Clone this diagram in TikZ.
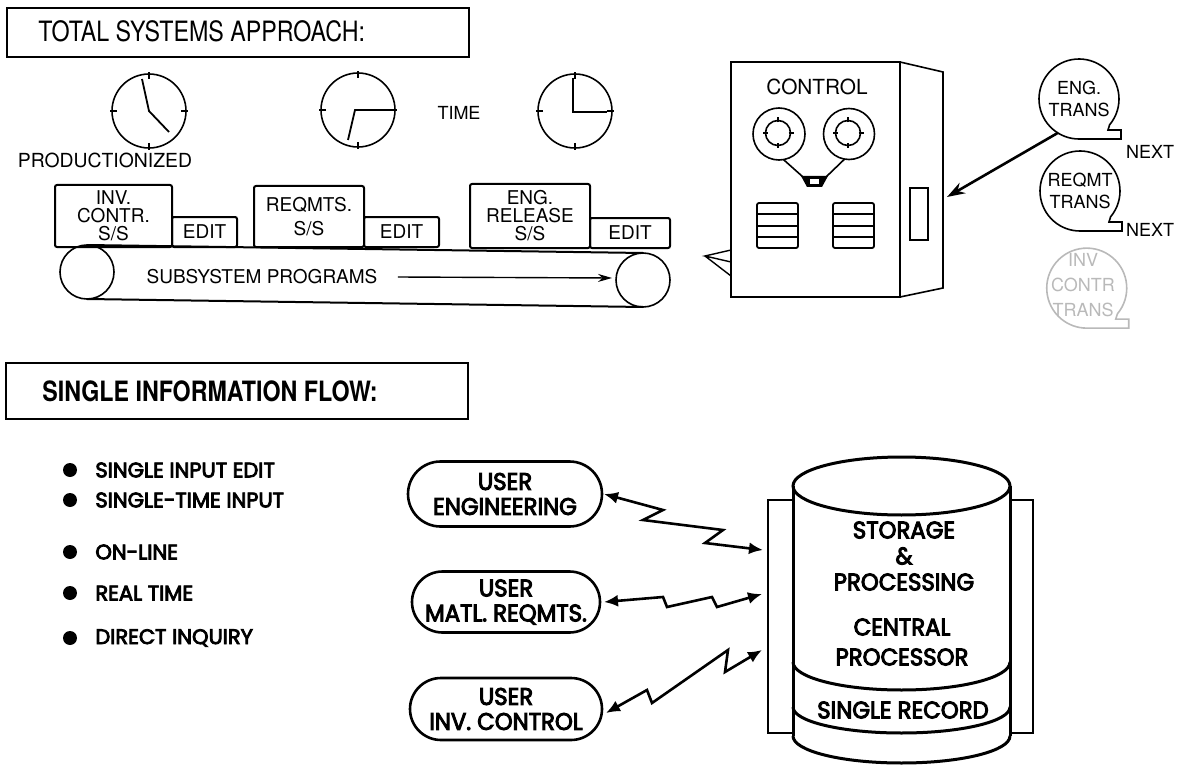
\documentclass[tikz,border=0pt]{standalone}
\usepackage{fontspec}
\newfontfamily\narrowsans{TeX Gyre Heros}[FakeStretch=0.83]
\newfontfamily\labelsans{TeX Gyre Heros}
\newfontfamily\roundsans{Poppins}[FakeStretch=0.95,FakeBold=4]
\newfontfamily\itemsans{Poppins}[FakeBold=4]
\usetikzlibrary{shapes.misc,arrows.meta}

\tikzset{
  frame/.style={draw,line width=1pt},
  clock/.style={circle,draw,line width=0.8pt,minimum size=37pt,inner sep=0pt,outer sep=0pt},
  lbl/.style={inner sep=0pt,align=center,font=\labelsans\fontsize{9.5}{9}\selectfont},
  ssbox/.style={draw,line width=1pt,rounded corners=1pt,inner sep=0pt,outer sep=0pt,align=center,
    font=\labelsans\fontsize{9.5}{9}\selectfont},
  roller/.style={circle,draw,line width=0.8pt,minimum size=27pt,inner sep=0pt,outer sep=0pt},
  reel/.style={circle,draw,line width=0.8pt,inner sep=0pt,outer sep=0pt},
  bubble/.style={circle,minimum size=40pt,inner sep=0pt,outer sep=0pt,align=center,
    font=\labelsans\fontsize{9}{11}\selectfont},
  user/.style={rounded rectangle,draw,line width=1.3pt,inner sep=0pt,outer sep=0pt,align=center,
    font=\roundsans\fontsize{12}{12.5}\selectfont},
  item/.style={inner sep=0pt,anchor=west,font=\itemsans\fontsize{10.5}{12}\selectfont},
  core/.style={inner sep=0pt,align=center,font=\roundsans\fontsize{12}{13}\selectfont},
  link/.style={line width=1.3pt,line join=miter,>={Latex[length=7pt,width=6pt]},<->},
}

\begin{document}
\begin{tikzpicture}[x=0.5pt,y=-0.5pt]
\useasboundingbox (0,0) rectangle (1184,765);

% ---- total systems approach ----
\draw[frame] (7,8) rectangle (469,57);
\node[anchor=west,inner sep=0pt,font=\narrowsans\fontsize{14}{14}\selectfont] (title) at (38,31) {TOTAL SYSTEMS APPROACH:};

% clocks
\node[clock] (clk1) at (149,111) {};
\node[clock] (clk2) at (358,110) {};
\node[clock] (clk3) at (575,111) {};
\foreach \n in {clk1,clk2,clk3}
  \foreach \a in {0,90,180,270}
    \draw[line width=0.8pt] ([shift={(\a+180:2.5pt)}]\n.\a) -- ([shift={(\a:1pt)}]\n.\a);
\draw[line width=0.9pt] (142,79) -- (clk1.center) -- (169,132);
\draw[line width=0.9pt] (390,110) -- (355,110) -- (348,140);
\draw[line width=0.9pt] (573,78) -- (573,112) -- (607,112);
\node[lbl,font=\labelsans\fontsize{9}{9}\selectfont] (time) at (459,113) {TIME};
\node[lbl,font=\labelsans\fontsize{9.7}{9}\selectfont] (prod) at (105,160) {PRODUCTIONIZED};

% subsystem programs and edits
\node[ssbox,minimum width=58.5pt,minimum height=31pt] (inv) at (113.5,216) {INV.\\CONTR.\\S/S};
\node[ssbox,anchor=south west,minimum width=32.5pt,minimum height=15pt] (invedit) at (inv.south east) {EDIT};
\node[ssbox,minimum width=55pt,minimum height=30.5pt] (req) at (309,216.5) {REQMTS.\\[3pt]S/S};
\node[ssbox,anchor=south west,minimum width=37.5pt,minimum height=15pt] (reqedit) at (req.south east) {EDIT};
\node[ssbox,minimum width=60pt,minimum height=32pt] (eng) at (530,216) {ENG.\\RELEASE\\S/S};
\node[ssbox,anchor=south west,minimum width=40pt,minimum height=15pt] (engedit) at (eng.south east) {EDIT};

% belt
\node[roller] (rollL) at (87,272) {};
\node[roller] (rollR) at (643,280) {};
\draw[line width=1pt] (rollL.north) -- (rollR.north) (rollL.south) -- (rollR.south);
\node[lbl] (prog) at (262,277) {SUBSYSTEM PROGRAMS};
\coordinate (beltend) at (612,278);
\draw[line width=0.7pt,-{Stealth[length=7pt,width=4pt]}] ([xshift=10pt]prog.east) -- (beltend);

% control unit
\node[draw,line width=1pt,minimum width=84.5pt,minimum height=117.5pt,inner sep=0pt,outer sep=0pt] (cab) at (815.5,179.5) {};
\draw[line width=0.8pt] (cab.north east) -- (943,72) -- (943,288) -- (cab.south east);
\node[draw,line width=0.6pt,minimum width=9pt,minimum height=26pt,inner sep=0pt] (slot) at (919,214) {};
\node[lbl,font=\labelsans\fontsize{10.4}{10}\selectfont] (ctrl) at (817,87) {CONTROL};
\node[reel,minimum size=26pt] (reelL) at (779,134) {};
\node[reel,minimum size=25.5pt] (reelR) at (849,134) {};
\node[reel,minimum size=12.5pt] (hubL) at (778,133) {};
\node[reel,minimum size=12.5pt] (hubR) at (848,133) {};
\foreach \n in {hubL,hubR}
  \foreach \a in {0,90,180,270}
    \draw[line width=0.8pt] ([shift={(\a+180:1pt)}]\n.\a) -- ([shift={(\a:1.5pt)}]\n.\a);
\draw[line width=0.8pt] (reelL.-80) -- (803,177) (reelR.-100) -- (826,177);
\fill (801,176) -- (828,176) -- (822,187) -- (807,187) -- cycle;
\fill[white] (810,179) rectangle (819,184);
\foreach \x in {757,833} {
  \draw[line width=0.9pt,rounded corners=1pt] (\x,203) rectangle ++(41,45);
  \foreach \y in {214,226,237}
    \draw[line width=0.9pt] (\x,\y) -- ++(41,0);
}
\draw[line width=0.7pt] (731,250) -- (705,256) -- (731,262) (705,256) -- (731,276);

% transactions
\node[bubble] (engt) at (1079,99) {ENG.\\TRANS};
\node[bubble] (reqt) at (1080,191) {REQMT\\TRANS};
\node[bubble,text=gray!55,font=\labelsans\fontsize{9}{12.5}\selectfont] (invt) at (1083,285) {INV\\CONTR\\TRANS};
\foreach \b/\c in {engt/black,reqt/black,invt/gray!55}
  \draw[\c,line width=0.8pt] (\b.-40) arc[start angle=-40,end angle=270,radius=20pt]
    -- ++(21pt,0pt) -- ++(0pt,4.5pt) -- ++(-6.5pt,0pt) -- cycle;
\node[lbl,font=\labelsans\fontsize{9}{9}\selectfont] (next1) at (1150,152) {NEXT};
\node[lbl,font=\labelsans\fontsize{9}{9}\selectfont] (next2) at (1150,230) {NEXT};
\coordinate (tip) at (947,197);
\draw[line width=1.3pt,-{Stealth[length=9pt,width=6pt]}] (engt.-122) -- (tip);

% ---- single information flow ----
\draw[line width=1.4pt] (6,363) rectangle (468,419);
\node[anchor=west,inner sep=0pt,font=\narrowsans\bfseries\fontsize{14}{14}\selectfont] (title2) at (42,391) {SINGLE INFORMATION FLOW:};
\foreach \y/\t [count=\i] in {470/SINGLE INPUT EDIT,500/SINGLE-TIME INPUT,552/ON-LINE,593/REAL TIME,638/DIRECT INQUIRY} {
  \node[circle,fill,inner sep=0pt,minimum size=7pt] (dot\i) at (70,\y) {};
  \node[item] (pt\i) at (95,\y) {\t};
}

% users
\node[user,minimum width=97pt,minimum height=32.5pt] (user1) at (505,494) {USER\\ENGINEERING};
\node[user,minimum width=94pt,minimum height=30.5pt] (user2) at (506,602) {USER\\MATL. REQMTS.};
\node[user,minimum width=96pt,minimum height=31pt] (user3) at (506,709) {USER\\INV. CONTROL};

% central store
\draw[line width=1.4pt] (768,500) rectangle (793,733);
\draw[line width=1.4pt] (1010,500) rectangle (1033,733);
\fill[white] (793,486) rectangle (1010,736);
\draw[line width=1.5pt] (901.5,486) ellipse[x radius=54.25pt,y radius=14.5pt];
\draw[line width=1.5pt] (793,486) -- (793,736) (1010,486) -- (1010,736);
\draw[line width=1.5pt] (793,662) arc[start angle=180,end angle=360,x radius=54.25pt,y radius=14pt];
\draw[line width=1.5pt] (793,707) arc[start angle=180,end angle=360,x radius=54.25pt,y radius=13pt];
\draw[line width=1.5pt] (793,736) arc[start angle=180,end angle=360,x radius=54.25pt,y radius=13.5pt];
\node[core] (store) at (904,556) {STORAGE\\\&\\PROCESSING};
\node[core,font=\roundsans\fontsize{12}{15}\selectfont] (cpu) at (902,642) {CENTRAL\\PROCESSOR};
\node[core] (rec) at (903,710) {SINGLE RECORD};

% links
\coordinate (in1) at (763,550);
\coordinate (in2) at (762,594);
\coordinate (in3) at (762,650);
\draw[link] ([xshift=1pt]user1.east) -- (663,510) -- (643,520) -- (723,530) -- (705,543) -- (in1);
\draw[link] ([xshift=2pt]user2.east) -- (663,597) -- (667,607) -- (712,597) -- (717,607) -- (in2);
\draw[link] ([xshift=2pt,yshift=-2pt]user3.east) -- (647,690) -- (652,703) -- (728,650) -- (725,672) -- (in3);
\end{tikzpicture}
\end{document}
